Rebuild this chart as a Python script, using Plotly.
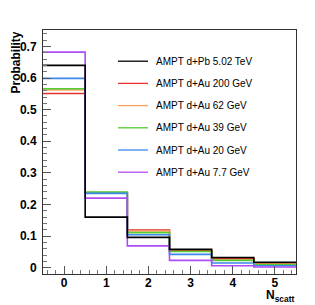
import plotly.graph_objects as go

# ---- data ----
nscatt = [0, 1, 2, 3, 4, 5]
series_names = ["AMPT d+Pb 5.02 TeV", "AMPT d+Au 200 GeV", "AMPT d+Au 62 GeV",
                "AMPT d+Au 39 GeV", "AMPT d+Au 20 GeV", "AMPT d+Au 7.7 GeV"]
dpb_5020 = [0.640, 0.160, 0.096, 0.058, 0.032, 0.017]
dau_200 = [0.551, 0.237, 0.119, 0.054, 0.028, 0.013]
dau_62 = [0.562, 0.238, 0.116, 0.052, 0.025, 0.011]
dau_39 = [0.566, 0.239, 0.111, 0.051, 0.023, 0.010]
dau_20 = [0.599, 0.235, 0.104, 0.042, 0.015, 0.006]
dau_7p7 = [0.682, 0.220, 0.069, 0.023, 0.006, 0.002]
y_ticks = [0, 0.1, 0.2, 0.3, 0.4, 0.5, 0.6, 0.7]
y_tick_labels = ["0", "0.1", "0.2", "0.3", "0.4", "0.5", "0.6", "0.7"]

series_values = [dpb_5020, dau_200, dau_62, dau_39, dau_20, dau_7p7]
colors = ["#000000", "#e8302f", "#f7a060", "#55cc33", "#3f88f0", "#b04cf5"]

edges = [c - 0.5 for c in nscatt] + [nscatt[-1] + 0.5]

fig = go.Figure()
# draw black last so it's on top
order = [1, 2, 3, 4, 5, 0]
for i in order:
    vals = series_values[i]
    fig.add_trace(go.Scatter(
        x=edges, y=vals + [vals[-1]], mode="lines", line_shape="hv",
        line=dict(color=colors[i], width=1.6), name=series_names[i],
        showlegend=False, hoverinfo="skip"))

# manual legend (paper coordinates)
L, R, T, B = 43, 296, 30, 274
W, H = 315, 305
def px(x):
    return (x - L) / (R - L)
def py(y):
    return (B - y) / (B - T)

row0, dy = 61.2, 22.2
for k, name in enumerate(series_names):
    yy = row0 + k * dy
    fig.add_shape(type="line", xref="paper", yref="paper",
                  x0=px(118), x1=px(148), y0=py(yy), y1=py(yy),
                  line=dict(color=colors[k], width=1.3))
    fig.add_annotation(xref="paper", yref="paper", x=px(154), y=py(yy),
                       text=name, showarrow=False, xanchor="left", yanchor="middle",
                       font=dict(family="Liberation Sans", size=10, color="#000"))

fig.add_annotation(xref="paper", yref="paper", x=px(15.5), y=1.0,
                   text="<b>Probability</b>", textangle=-90, showarrow=False,
                   xanchor="center", yanchor="top",
                   font=dict(family="Liberation Sans", size=12, color="#000"))
fig.add_annotation(xref="paper", yref="paper", x=1.0, y=py(306),
                   text="<b>N<sub>scatt</sub></b>", showarrow=False,
                   xanchor="right", yanchor="bottom",
                   font=dict(family="Liberation Sans", size=12, color="#000"))

fig.update_layout(
    width=W, height=H,
    margin=dict(l=L, r=W - R, t=T, b=H - B),
    paper_bgcolor="white", plot_bgcolor="white",
    showlegend=False,
    font=dict(family="Liberation Sans", color="#000"),
)
fig.update_xaxes(
    range=[-0.5, 5.5], tickvals=nscatt, ticktext=[str(v) for v in nscatt],
    ticks="inside", ticklen=8, tickcolor="#555", tickwidth=1,
    minor=dict(dtick=0.2, ticks="inside", ticklen=4, tickcolor="#777"),
    showgrid=False, zeroline=False, showline=True, mirror=True,
    linecolor="#333", linewidth=1, ticklabelstandoff=-2,
    tickfont=dict(family="Liberation Sans", size=12, color="#000", weight="bold"),
)
fig.update_yaxes(
    range=[-0.02, 0.752], tickvals=y_ticks, ticktext=y_tick_labels,
    ticks="inside", ticklen=8, tickcolor="#555", tickwidth=1,
    minor=dict(dtick=0.02, ticks="inside", ticklen=4, tickcolor="#777"),
    showgrid=False, zeroline=False, showline=True, mirror=True,
    linecolor="#333", linewidth=1, ticklabelstandoff=3,
    tickfont=dict(family="Liberation Sans", size=12, color="#000", weight="bold"),
)

fig.write_html("out.html", config={"displayModeBar": False},
               post_script="document.body.style.margin='0';document.body.style.overflow='hidden';")
